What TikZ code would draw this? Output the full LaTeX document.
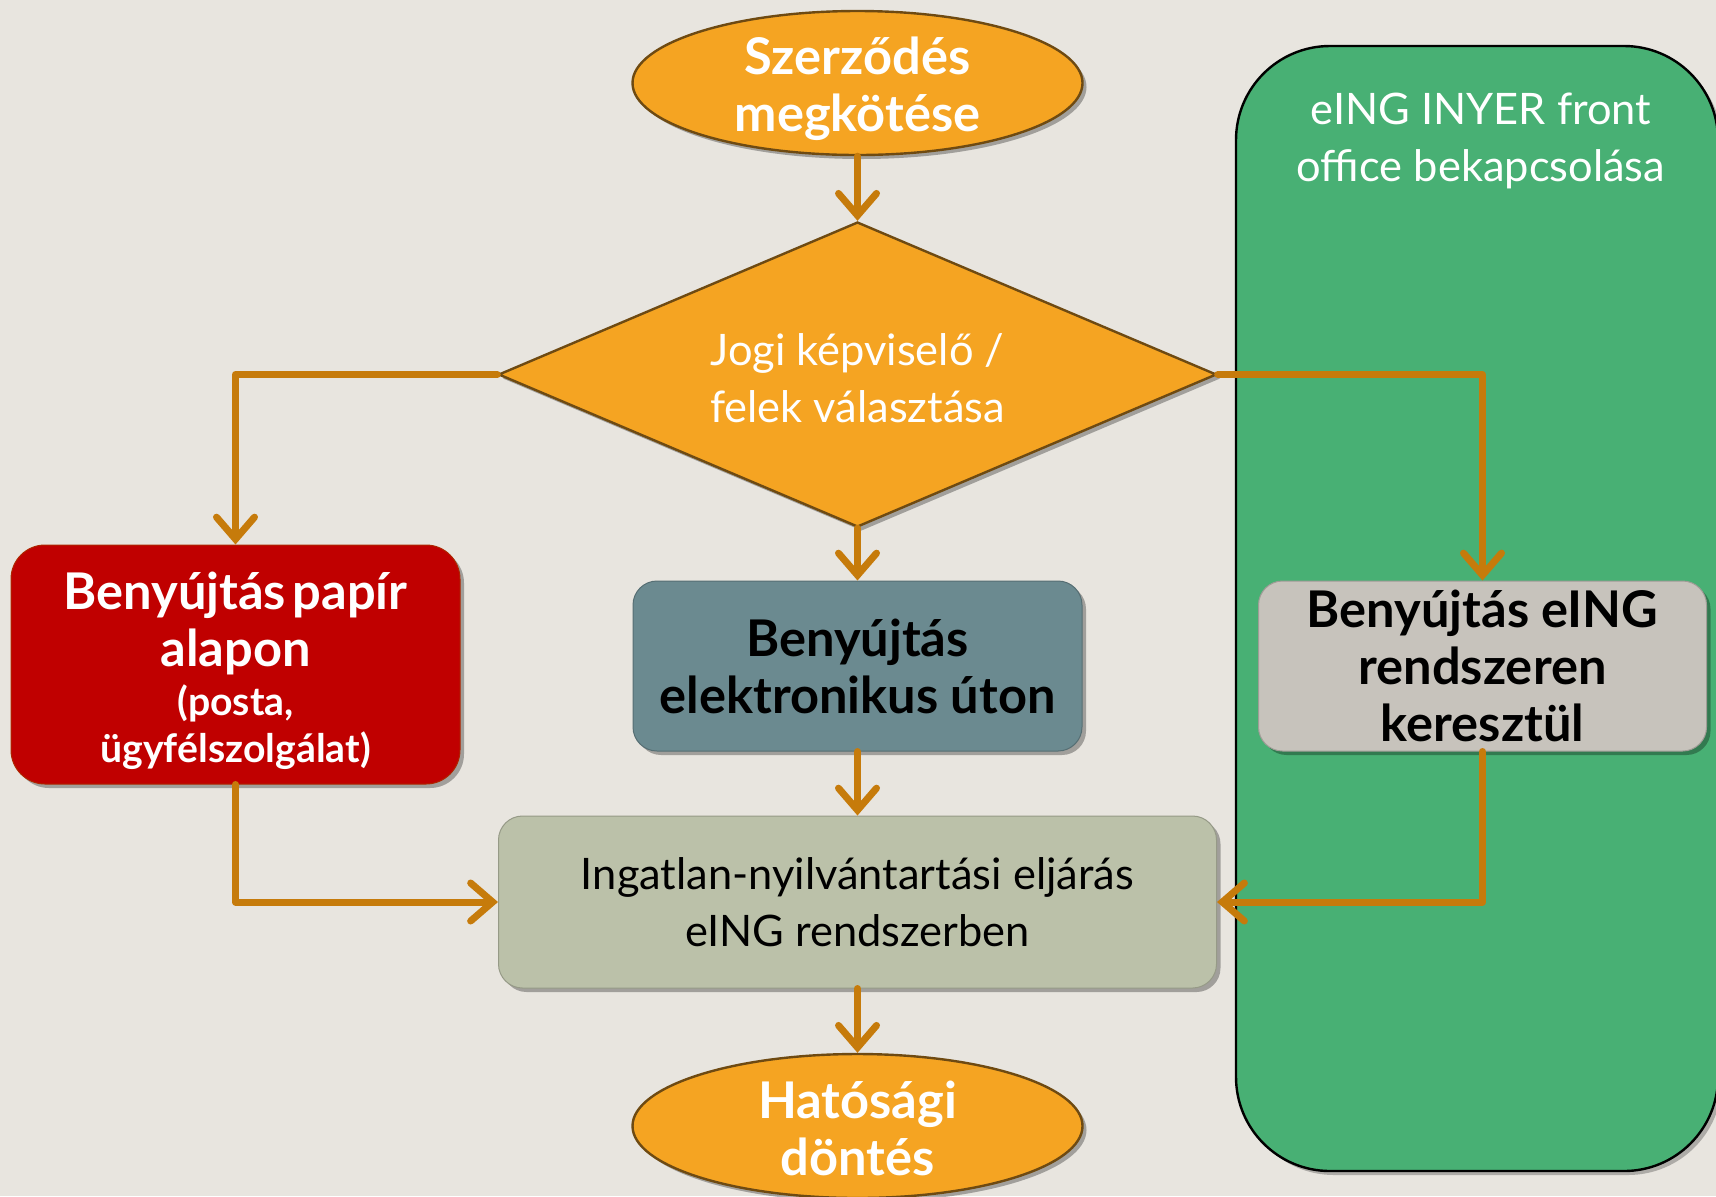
\documentclass[tikz,border=0pt]{standalone}
\usepackage{fontspec}
\setmainfont{Lato}
\usetikzlibrary{shapes.geometric,arrows.meta,shadows}
\definecolor{bgc}{HTML}{E8E5DF}
\definecolor{orfill}{HTML}{F5A422}
\definecolor{ordraw}{HTML}{6E4A12}
\definecolor{arrc}{HTML}{C67B0B}
\definecolor{redc}{HTML}{C00000}
\definecolor{bluec}{HTML}{6B8A90}
\definecolor{greyc}{HTML}{C7C3BC}
\definecolor{sagec}{HTML}{BBC1A9}
\definecolor{greenc}{HTML}{48B074}
\newcommand{\boldf}{\fontsize{25.3}{28.5}\selectfont\bfseries}
\newcommand{\regf}{\fontsize{21.7}{28.5}\selectfont}
\newcommand{\smallf}{\fontsize{19.6}{23.5}\selectfont\bfseries}
\begin{document}
\begin{tikzpicture}[x=0.5pt,y=-0.5pt,
  shad/.style={drop shadow={shadow xshift=2pt,shadow yshift=-2pt,opacity=0.3,fill=black}},
  oval/.style={ellipse,fill=orfill,draw=ordraw,line width=1.2pt,minimum width=225pt,minimum height=72pt,inner sep=0pt,shad},
  boxst/.style={rectangle,rounded corners=12pt,inner sep=0pt,align=center,line width=0.5pt,shad},
  lbl/.style={align=center,inner sep=0pt},
  arr/.style={draw=arrc,line width=3.5pt,line cap=round,line join=round,-{Straight Barb[length=11pt,width=19pt,line cap=round]}}
]
\clip (0,0) rectangle (1716,1196);
\fill[bgc] (0,0) rectangle (1716,1196);
% green panel
\path[fill=greenc,draw=black,line width=1.2pt,rounded corners=47pt,drop shadow={shadow xshift=2pt,shadow yshift=-2pt,opacity=0.25,fill=black}] (1236,46) rectangle (1718,1171);
\node[lbl,text=white,font=\regf] (paneltxt) at (1481,141) {eING INYER front\\office bekapcsolása};

\node[oval] (start) at (857.5,83) {};
\node[lbl,text=white,font=\boldf] (starttxt) at (857.5,89) {Szerződés\\megkötése};
\node[diamond,fill=orfill,draw=ordraw,line width=1.2pt,minimum width=359pt,minimum height=152.5pt,inner sep=0pt,shad] (dia) at (857.5,374.5) {};
\node[lbl,text=white,font=\regf] (diatxt) at (857.5,378) {Jogi képviselő /\\felek választása};

\node[boxst,fill=redc,draw=redc!70!olive,rounded corners=17pt,minimum width=224.5pt,minimum height=119.5pt] (red) at (235.5,664.5) {};
\node[lbl,text=white,text width=224pt] (redtxt) at (235.5,671)
  {\boldf Benyújtás papír\\ alapon\par\vspace{1pt}\smallf (posta,\\ ügyfélszolgálat)\par};
\node[boxst,fill=bluec,draw=bluec!80!black,minimum width=224.5pt,minimum height=85pt,text=black,font=\boldf] (blue) at (857.5,666) {Benyújtás\\elektronikus úton};
\node[boxst,fill=greyc,draw=greyc!80!black,minimum width=224pt,minimum height=85pt,text=black,font=\boldf] (grey) at (1482.5,666) {Benyújtás eING\\rendszeren\\keresztül};
\node[boxst,fill=sagec,draw=sagec!80!black,minimum width=359pt,minimum height=86pt,text=black,font=\regf] (sage) at (857.5,902) {Ingatlan-nyilvántartási eljárás\\eING rendszerben};
\node[oval] (stop) at (857.5,1126) {};
\node[lbl,text=white,font=\boldf] (stoptxt) at (857.5,1128) {Hatósági\\döntés};

\draw[arr] (start.south) -- (dia.north);
\draw[arr] (dia.west) -| (red.north);
\draw[arr] (dia.east) -| (grey.north);
\draw[arr] (dia.south) -- (blue.north);
\draw[arr] (red.south) |- (sage.west);
\draw[arr] (grey.south) |- (sage.east);
\draw[arr] (blue.south) -- (sage.north);
\draw[arr] (sage.south) -- (stop.north);
\end{tikzpicture}
\end{document}
